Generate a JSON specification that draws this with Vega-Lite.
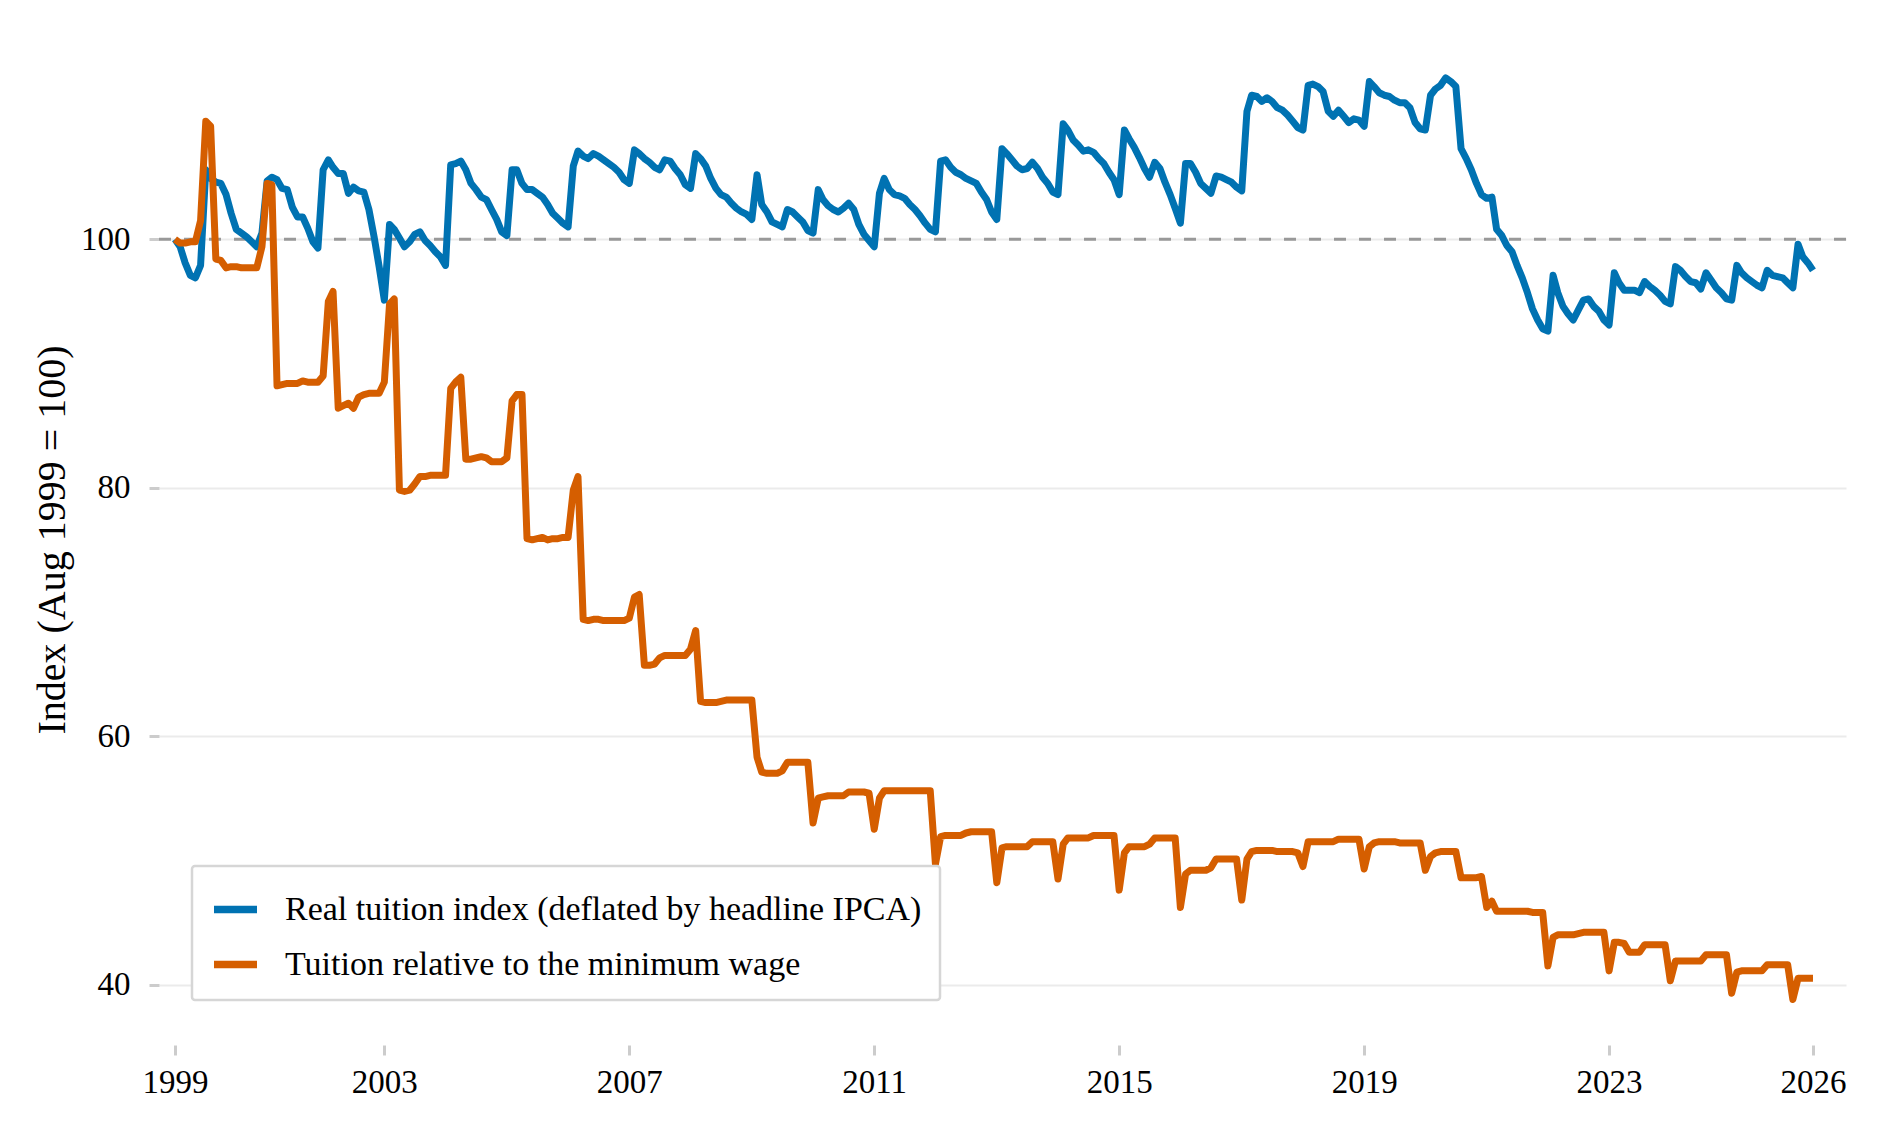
{
"$schema":"https://vega.github.io/schema/vega-lite/v6.json",
"width":1687,"height":1011,
"autosize":{"type":"none"},
"padding":{"left":159,"top":34,"right":33,"bottom":93},
"background":"white",
"config":{"font":"Liberation Serif","view":{"stroke":null}},
"datasets":{
"real":[
{"d":"1999-08","v":100.0},{"d":"1999-09","v":99.4},{"d":"1999-10","v":98.1},{"d":"1999-11","v":97.1},{"d":"1999-12","v":96.9},
{"d":"2000-01","v":97.9},{"d":"2000-02","v":105.6},{"d":"2000-03","v":104.9},{"d":"2000-04","v":104.6},{"d":"2000-05","v":104.5},{"d":"2000-06","v":103.6},{"d":"2000-07","v":102.1},{"d":"2000-08","v":100.8},{"d":"2000-09","v":100.5},{"d":"2000-10","v":100.2},{"d":"2000-11","v":99.8},{"d":"2000-12","v":99.4},
{"d":"2001-01","v":100.5},{"d":"2001-02","v":104.7},{"d":"2001-03","v":105.0},{"d":"2001-04","v":104.8},{"d":"2001-05","v":104.1},{"d":"2001-06","v":104.0},{"d":"2001-07","v":102.6},{"d":"2001-08","v":101.8},{"d":"2001-09","v":101.8},{"d":"2001-10","v":100.9},{"d":"2001-11","v":99.8},{"d":"2001-12","v":99.3},
{"d":"2002-01","v":105.6},{"d":"2002-02","v":106.4},{"d":"2002-03","v":105.8},{"d":"2002-04","v":105.3},{"d":"2002-05","v":105.3},{"d":"2002-06","v":103.7},{"d":"2002-07","v":104.2},{"d":"2002-08","v":103.9},{"d":"2002-09","v":103.8},{"d":"2002-10","v":102.4},{"d":"2002-11","v":100.2},{"d":"2002-12","v":97.8},
{"d":"2003-01","v":95.1},{"d":"2003-02","v":101.2},{"d":"2003-03","v":100.8},{"d":"2003-04","v":100.1},{"d":"2003-05","v":99.4},{"d":"2003-06","v":99.8},{"d":"2003-07","v":100.4},{"d":"2003-08","v":100.6},{"d":"2003-09","v":99.9},{"d":"2003-10","v":99.5},{"d":"2003-11","v":99.0},{"d":"2003-12","v":98.6},
{"d":"2004-01","v":97.9},{"d":"2004-02","v":106.0},{"d":"2004-03","v":106.1},{"d":"2004-04","v":106.3},{"d":"2004-05","v":105.6},{"d":"2004-06","v":104.5},{"d":"2004-07","v":104.0},{"d":"2004-08","v":103.4},{"d":"2004-09","v":103.2},{"d":"2004-10","v":102.4},{"d":"2004-11","v":101.6},{"d":"2004-12","v":100.6},
{"d":"2005-01","v":100.3},{"d":"2005-02","v":105.6},{"d":"2005-03","v":105.6},{"d":"2005-04","v":104.5},{"d":"2005-05","v":104.0},{"d":"2005-06","v":104.0},{"d":"2005-07","v":103.7},{"d":"2005-08","v":103.4},{"d":"2005-09","v":102.8},{"d":"2005-10","v":102.1},{"d":"2005-11","v":101.7},{"d":"2005-12","v":101.3},
{"d":"2006-01","v":101.0},{"d":"2006-02","v":105.9},{"d":"2006-03","v":107.1},{"d":"2006-04","v":106.7},{"d":"2006-05","v":106.5},{"d":"2006-06","v":106.9},{"d":"2006-07","v":106.7},{"d":"2006-08","v":106.4},{"d":"2006-09","v":106.1},{"d":"2006-10","v":105.8},{"d":"2006-11","v":105.4},{"d":"2006-12","v":104.8},
{"d":"2007-01","v":104.5},{"d":"2007-02","v":107.2},{"d":"2007-03","v":106.9},{"d":"2007-04","v":106.5},{"d":"2007-05","v":106.2},{"d":"2007-06","v":105.8},{"d":"2007-07","v":105.6},{"d":"2007-08","v":106.4},{"d":"2007-09","v":106.3},{"d":"2007-10","v":105.7},{"d":"2007-11","v":105.2},{"d":"2007-12","v":104.4},
{"d":"2008-01","v":104.1},{"d":"2008-02","v":106.9},{"d":"2008-03","v":106.5},{"d":"2008-04","v":105.9},{"d":"2008-05","v":104.9},{"d":"2008-06","v":104.1},{"d":"2008-07","v":103.6},{"d":"2008-08","v":103.4},{"d":"2008-09","v":102.9},{"d":"2008-10","v":102.5},{"d":"2008-11","v":102.2},{"d":"2008-12","v":102.0},
{"d":"2009-01","v":101.6},{"d":"2009-02","v":105.2},{"d":"2009-03","v":102.8},{"d":"2009-04","v":102.2},{"d":"2009-05","v":101.4},{"d":"2009-06","v":101.2},{"d":"2009-07","v":101.0},{"d":"2009-08","v":102.4},{"d":"2009-09","v":102.2},{"d":"2009-10","v":101.8},{"d":"2009-11","v":101.4},{"d":"2009-12","v":100.7},
{"d":"2010-01","v":100.5},{"d":"2010-02","v":104.0},{"d":"2010-03","v":103.2},{"d":"2010-04","v":102.7},{"d":"2010-05","v":102.4},{"d":"2010-06","v":102.2},{"d":"2010-07","v":102.5},{"d":"2010-08","v":102.9},{"d":"2010-09","v":102.4},{"d":"2010-10","v":101.2},{"d":"2010-11","v":100.4},{"d":"2010-12","v":99.9},
{"d":"2011-01","v":99.4},{"d":"2011-02","v":103.7},{"d":"2011-03","v":104.9},{"d":"2011-04","v":104.0},{"d":"2011-05","v":103.6},{"d":"2011-06","v":103.5},{"d":"2011-07","v":103.3},{"d":"2011-08","v":102.8},{"d":"2011-09","v":102.4},{"d":"2011-10","v":101.9},{"d":"2011-11","v":101.3},{"d":"2011-12","v":100.8},
{"d":"2012-01","v":100.6},{"d":"2012-02","v":106.3},{"d":"2012-03","v":106.4},{"d":"2012-04","v":105.8},{"d":"2012-05","v":105.4},{"d":"2012-06","v":105.2},{"d":"2012-07","v":104.9},{"d":"2012-08","v":104.7},{"d":"2012-09","v":104.5},{"d":"2012-10","v":103.8},{"d":"2012-11","v":103.2},{"d":"2012-12","v":102.2},
{"d":"2013-01","v":101.6},{"d":"2013-02","v":107.3},{"d":"2013-03","v":106.9},{"d":"2013-04","v":106.4},{"d":"2013-05","v":105.9},{"d":"2013-06","v":105.6},{"d":"2013-07","v":105.7},{"d":"2013-08","v":106.2},{"d":"2013-09","v":105.7},{"d":"2013-10","v":105.0},{"d":"2013-11","v":104.5},{"d":"2013-12","v":103.8},
{"d":"2014-01","v":103.6},{"d":"2014-02","v":109.3},{"d":"2014-03","v":108.8},{"d":"2014-04","v":108.0},{"d":"2014-05","v":107.6},{"d":"2014-06","v":107.1},{"d":"2014-07","v":107.2},{"d":"2014-08","v":107.0},{"d":"2014-09","v":106.5},{"d":"2014-10","v":106.1},{"d":"2014-11","v":105.4},{"d":"2014-12","v":104.8},
{"d":"2015-01","v":103.6},{"d":"2015-02","v":108.8},{"d":"2015-03","v":108.1},{"d":"2015-04","v":107.4},{"d":"2015-05","v":106.6},{"d":"2015-06","v":105.7},{"d":"2015-07","v":105.0},{"d":"2015-08","v":106.2},{"d":"2015-09","v":105.7},{"d":"2015-10","v":104.6},{"d":"2015-11","v":103.6},{"d":"2015-12","v":102.5},
{"d":"2016-01","v":101.3},{"d":"2016-02","v":106.1},{"d":"2016-03","v":106.1},{"d":"2016-04","v":105.4},{"d":"2016-05","v":104.5},{"d":"2016-06","v":104.1},{"d":"2016-07","v":103.7},{"d":"2016-08","v":105.1},{"d":"2016-09","v":105.0},{"d":"2016-10","v":104.8},{"d":"2016-11","v":104.6},{"d":"2016-12","v":104.2},
{"d":"2017-01","v":103.9},{"d":"2017-02","v":110.3},{"d":"2017-03","v":111.6},{"d":"2017-04","v":111.5},{"d":"2017-05","v":111.1},{"d":"2017-06","v":111.4},{"d":"2017-07","v":111.1},{"d":"2017-08","v":110.6},{"d":"2017-09","v":110.4},{"d":"2017-10","v":110.0},{"d":"2017-11","v":109.5},{"d":"2017-12","v":109.0},
{"d":"2018-01","v":108.8},{"d":"2018-02","v":112.4},{"d":"2018-03","v":112.5},{"d":"2018-04","v":112.3},{"d":"2018-05","v":111.9},{"d":"2018-06","v":110.3},{"d":"2018-07","v":109.9},{"d":"2018-08","v":110.4},{"d":"2018-09","v":109.9},{"d":"2018-10","v":109.4},{"d":"2018-11","v":109.7},{"d":"2018-12","v":109.6},
{"d":"2019-01","v":109.1},{"d":"2019-02","v":112.7},{"d":"2019-03","v":112.3},{"d":"2019-04","v":111.8},{"d":"2019-05","v":111.6},{"d":"2019-06","v":111.5},{"d":"2019-07","v":111.2},{"d":"2019-08","v":111.0},{"d":"2019-09","v":111.0},{"d":"2019-10","v":110.6},{"d":"2019-11","v":109.4},{"d":"2019-12","v":108.9},
{"d":"2020-01","v":108.8},{"d":"2020-02","v":111.6},{"d":"2020-03","v":112.1},{"d":"2020-04","v":112.4},{"d":"2020-05","v":113.0},{"d":"2020-06","v":112.7},{"d":"2020-07","v":112.3},{"d":"2020-08","v":107.3},{"d":"2020-09","v":106.5},{"d":"2020-10","v":105.6},{"d":"2020-11","v":104.5},{"d":"2020-12","v":103.6},
{"d":"2021-01","v":103.3},{"d":"2021-02","v":103.4},{"d":"2021-03","v":100.8},{"d":"2021-04","v":100.3},{"d":"2021-05","v":99.5},{"d":"2021-06","v":99.0},{"d":"2021-07","v":97.9},{"d":"2021-08","v":96.9},{"d":"2021-09","v":95.7},{"d":"2021-10","v":94.4},{"d":"2021-11","v":93.5},{"d":"2021-12","v":92.8},
{"d":"2022-01","v":92.6},{"d":"2022-02","v":97.1},{"d":"2022-03","v":95.7},{"d":"2022-04","v":94.6},{"d":"2022-05","v":94.0},{"d":"2022-06","v":93.5},{"d":"2022-07","v":94.3},{"d":"2022-08","v":95.1},{"d":"2022-09","v":95.2},{"d":"2022-10","v":94.6},{"d":"2022-11","v":94.2},{"d":"2022-12","v":93.5},
{"d":"2023-01","v":93.1},{"d":"2023-02","v":97.3},{"d":"2023-03","v":96.5},{"d":"2023-04","v":95.9},{"d":"2023-05","v":95.9},{"d":"2023-06","v":95.9},{"d":"2023-07","v":95.7},{"d":"2023-08","v":96.6},{"d":"2023-09","v":96.2},{"d":"2023-10","v":95.9},{"d":"2023-11","v":95.5},{"d":"2023-12","v":95.0},
{"d":"2024-01","v":94.8},{"d":"2024-02","v":97.8},{"d":"2024-03","v":97.5},{"d":"2024-04","v":97.0},{"d":"2024-05","v":96.6},{"d":"2024-06","v":96.5},{"d":"2024-07","v":96.0},{"d":"2024-08","v":97.3},{"d":"2024-09","v":96.7},{"d":"2024-10","v":96.1},{"d":"2024-11","v":95.7},{"d":"2024-12","v":95.2},
{"d":"2025-01","v":95.1},{"d":"2025-02","v":97.9},{"d":"2025-03","v":97.3},{"d":"2025-04","v":96.9},{"d":"2025-05","v":96.6},{"d":"2025-06","v":96.3},{"d":"2025-07","v":96.1},{"d":"2025-08","v":97.5},{"d":"2025-09","v":97.1},{"d":"2025-10","v":97.0},{"d":"2025-11","v":96.9},{"d":"2025-12","v":96.5},
{"d":"2026-01","v":96.1},{"d":"2026-02","v":99.6},{"d":"2026-03","v":98.6},{"d":"2026-04","v":98.1},{"d":"2026-05","v":97.5}
],
"mw":[
{"d":"1999-08","v":100.0},{"d":"1999-09","v":99.7},{"d":"1999-10","v":99.7},{"d":"1999-11","v":99.8},{"d":"1999-12","v":99.8},
{"d":"2000-01","v":101.5},{"d":"2000-02","v":109.5},{"d":"2000-03","v":109.1},{"d":"2000-04","v":98.4},{"d":"2000-05","v":98.3},{"d":"2000-06","v":97.7},{"d":"2000-07","v":97.8},{"d":"2000-08","v":97.8},{"d":"2000-09","v":97.7},{"d":"2000-10","v":97.7},{"d":"2000-11","v":97.7},{"d":"2000-12","v":97.7},
{"d":"2001-01","v":99.4},{"d":"2001-02","v":104.5},{"d":"2001-03","v":104.4},{"d":"2001-04","v":88.2},{"d":"2001-05","v":88.3},{"d":"2001-06","v":88.4},{"d":"2001-07","v":88.4},{"d":"2001-08","v":88.4},{"d":"2001-09","v":88.6},{"d":"2001-10","v":88.5},{"d":"2001-11","v":88.5},{"d":"2001-12","v":88.5},
{"d":"2002-01","v":89.0},{"d":"2002-02","v":95.0},{"d":"2002-03","v":95.8},{"d":"2002-04","v":86.4},{"d":"2002-05","v":86.6},{"d":"2002-06","v":86.8},{"d":"2002-07","v":86.4},{"d":"2002-08","v":87.3},{"d":"2002-09","v":87.5},{"d":"2002-10","v":87.6},{"d":"2002-11","v":87.6},{"d":"2002-12","v":87.6},
{"d":"2003-01","v":88.5},{"d":"2003-02","v":94.8},{"d":"2003-03","v":95.2},{"d":"2003-04","v":79.8},{"d":"2003-05","v":79.7},{"d":"2003-06","v":79.8},{"d":"2003-07","v":80.3},{"d":"2003-08","v":80.9},{"d":"2003-09","v":80.9},{"d":"2003-10","v":81.0},{"d":"2003-11","v":81.0},{"d":"2003-12","v":81.0},
{"d":"2004-01","v":81.0},{"d":"2004-02","v":88.0},{"d":"2004-03","v":88.5},{"d":"2004-04","v":88.9},{"d":"2004-05","v":82.3},{"d":"2004-06","v":82.3},{"d":"2004-07","v":82.4},{"d":"2004-08","v":82.5},{"d":"2004-09","v":82.4},{"d":"2004-10","v":82.1},{"d":"2004-11","v":82.1},{"d":"2004-12","v":82.1},
{"d":"2005-01","v":82.4},{"d":"2005-02","v":87.0},{"d":"2005-03","v":87.5},{"d":"2005-04","v":87.5},{"d":"2005-05","v":75.9},{"d":"2005-06","v":75.8},{"d":"2005-07","v":75.9},{"d":"2005-08","v":76.0},{"d":"2005-09","v":75.8},{"d":"2005-10","v":75.9},{"d":"2005-11","v":75.9},{"d":"2005-12","v":76.0},
{"d":"2006-01","v":76.0},{"d":"2006-02","v":79.8},{"d":"2006-03","v":80.9},{"d":"2006-04","v":69.4},{"d":"2006-05","v":69.3},{"d":"2006-06","v":69.4},{"d":"2006-07","v":69.4},{"d":"2006-08","v":69.3},{"d":"2006-09","v":69.3},{"d":"2006-10","v":69.3},{"d":"2006-11","v":69.3},{"d":"2006-12","v":69.3},
{"d":"2007-01","v":69.5},{"d":"2007-02","v":71.2},{"d":"2007-03","v":71.4},{"d":"2007-04","v":65.7},{"d":"2007-05","v":65.7},{"d":"2007-06","v":65.8},{"d":"2007-07","v":66.3},{"d":"2007-08","v":66.5},{"d":"2007-09","v":66.5},{"d":"2007-10","v":66.5},{"d":"2007-11","v":66.5},{"d":"2007-12","v":66.5},
{"d":"2008-01","v":67.0},{"d":"2008-02","v":68.5},{"d":"2008-03","v":62.8},{"d":"2008-04","v":62.7},{"d":"2008-05","v":62.7},{"d":"2008-06","v":62.7},{"d":"2008-07","v":62.8},{"d":"2008-08","v":62.9},{"d":"2008-09","v":62.9},{"d":"2008-10","v":62.9},{"d":"2008-11","v":62.9},{"d":"2008-12","v":62.9},
{"d":"2009-01","v":62.9},{"d":"2009-02","v":58.3},{"d":"2009-03","v":57.1},{"d":"2009-04","v":57.0},{"d":"2009-05","v":57.0},{"d":"2009-06","v":57.0},{"d":"2009-07","v":57.2},{"d":"2009-08","v":57.9},{"d":"2009-09","v":57.9},{"d":"2009-10","v":57.9},{"d":"2009-11","v":57.9},{"d":"2009-12","v":57.9},
{"d":"2010-01","v":53.0},{"d":"2010-02","v":55.0},{"d":"2010-03","v":55.1},{"d":"2010-04","v":55.2},{"d":"2010-05","v":55.2},{"d":"2010-06","v":55.2},{"d":"2010-07","v":55.2},{"d":"2010-08","v":55.5},{"d":"2010-09","v":55.5},{"d":"2010-10","v":55.5},{"d":"2010-11","v":55.5},{"d":"2010-12","v":55.4},
{"d":"2011-01","v":52.5},{"d":"2011-02","v":55.0},{"d":"2011-03","v":55.6},{"d":"2011-04","v":55.6},{"d":"2011-05","v":55.6},{"d":"2011-06","v":55.6},{"d":"2011-07","v":55.6},{"d":"2011-08","v":55.6},{"d":"2011-09","v":55.6},{"d":"2011-10","v":55.6},{"d":"2011-11","v":55.6},{"d":"2011-12","v":55.6},
{"d":"2012-01","v":49.7},{"d":"2012-02","v":51.9},{"d":"2012-03","v":52.0},{"d":"2012-04","v":52.0},{"d":"2012-05","v":52.0},{"d":"2012-06","v":52.0},{"d":"2012-07","v":52.2},{"d":"2012-08","v":52.3},{"d":"2012-09","v":52.3},{"d":"2012-10","v":52.3},{"d":"2012-11","v":52.3},{"d":"2012-12","v":52.3},
{"d":"2013-01","v":48.2},{"d":"2013-02","v":51.0},{"d":"2013-03","v":51.1},{"d":"2013-04","v":51.1},{"d":"2013-05","v":51.1},{"d":"2013-06","v":51.1},{"d":"2013-07","v":51.1},{"d":"2013-08","v":51.5},{"d":"2013-09","v":51.5},{"d":"2013-10","v":51.5},{"d":"2013-11","v":51.5},{"d":"2013-12","v":51.5},
{"d":"2014-01","v":48.5},{"d":"2014-02","v":51.3},{"d":"2014-03","v":51.8},{"d":"2014-04","v":51.8},{"d":"2014-05","v":51.8},{"d":"2014-06","v":51.8},{"d":"2014-07","v":51.8},{"d":"2014-08","v":52.0},{"d":"2014-09","v":52.0},{"d":"2014-10","v":52.0},{"d":"2014-11","v":52.0},{"d":"2014-12","v":52.0},
{"d":"2015-01","v":47.6},{"d":"2015-02","v":50.6},{"d":"2015-03","v":51.1},{"d":"2015-04","v":51.1},{"d":"2015-05","v":51.1},{"d":"2015-06","v":51.1},{"d":"2015-07","v":51.3},{"d":"2015-08","v":51.8},{"d":"2015-09","v":51.8},{"d":"2015-10","v":51.8},{"d":"2015-11","v":51.8},{"d":"2015-12","v":51.8},
{"d":"2016-01","v":46.2},{"d":"2016-02","v":48.9},{"d":"2016-03","v":49.2},{"d":"2016-04","v":49.2},{"d":"2016-05","v":49.2},{"d":"2016-06","v":49.2},{"d":"2016-07","v":49.4},{"d":"2016-08","v":50.1},{"d":"2016-09","v":50.1},{"d":"2016-10","v":50.1},{"d":"2016-11","v":50.1},{"d":"2016-12","v":50.1},
{"d":"2017-01","v":46.8},{"d":"2017-02","v":50.1},{"d":"2017-03","v":50.7},{"d":"2017-04","v":50.8},{"d":"2017-05","v":50.8},{"d":"2017-06","v":50.8},{"d":"2017-07","v":50.8},{"d":"2017-08","v":50.7},{"d":"2017-09","v":50.7},{"d":"2017-10","v":50.7},{"d":"2017-11","v":50.7},{"d":"2017-12","v":50.6},
{"d":"2018-01","v":49.5},{"d":"2018-02","v":51.5},{"d":"2018-03","v":51.5},{"d":"2018-04","v":51.5},{"d":"2018-05","v":51.5},{"d":"2018-06","v":51.5},{"d":"2018-07","v":51.5},{"d":"2018-08","v":51.7},{"d":"2018-09","v":51.7},{"d":"2018-10","v":51.7},{"d":"2018-11","v":51.7},{"d":"2018-12","v":51.7},
{"d":"2019-01","v":49.3},{"d":"2019-02","v":51.1},{"d":"2019-03","v":51.4},{"d":"2019-04","v":51.5},{"d":"2019-05","v":51.5},{"d":"2019-06","v":51.5},{"d":"2019-07","v":51.5},{"d":"2019-08","v":51.4},{"d":"2019-09","v":51.4},{"d":"2019-10","v":51.4},{"d":"2019-11","v":51.4},{"d":"2019-12","v":51.4},
{"d":"2020-01","v":49.2},{"d":"2020-02","v":50.3},{"d":"2020-03","v":50.6},{"d":"2020-04","v":50.7},{"d":"2020-05","v":50.7},{"d":"2020-06","v":50.7},{"d":"2020-07","v":50.7},{"d":"2020-08","v":48.6},{"d":"2020-09","v":48.6},{"d":"2020-10","v":48.6},{"d":"2020-11","v":48.6},{"d":"2020-12","v":48.7},
{"d":"2021-01","v":46.2},{"d":"2021-02","v":46.7},{"d":"2021-03","v":45.9},{"d":"2021-04","v":45.9},{"d":"2021-05","v":45.9},{"d":"2021-06","v":45.9},{"d":"2021-07","v":45.9},{"d":"2021-08","v":45.9},{"d":"2021-09","v":45.9},{"d":"2021-10","v":45.8},{"d":"2021-11","v":45.8},{"d":"2021-12","v":45.8},
{"d":"2022-01","v":41.5},{"d":"2022-02","v":43.8},{"d":"2022-03","v":44.0},{"d":"2022-04","v":44.0},{"d":"2022-05","v":44.0},{"d":"2022-06","v":44.0},{"d":"2022-07","v":44.1},{"d":"2022-08","v":44.2},{"d":"2022-09","v":44.2},{"d":"2022-10","v":44.2},{"d":"2022-11","v":44.2},{"d":"2022-12","v":44.2},
{"d":"2023-01","v":41.1},{"d":"2023-02","v":43.4},{"d":"2023-03","v":43.4},{"d":"2023-04","v":43.3},{"d":"2023-05","v":42.6},{"d":"2023-06","v":42.6},{"d":"2023-07","v":42.6},{"d":"2023-08","v":43.2},{"d":"2023-09","v":43.2},{"d":"2023-10","v":43.2},{"d":"2023-11","v":43.2},{"d":"2023-12","v":43.2},
{"d":"2024-01","v":40.3},{"d":"2024-02","v":41.9},{"d":"2024-03","v":41.9},{"d":"2024-04","v":41.9},{"d":"2024-05","v":41.9},{"d":"2024-06","v":41.9},{"d":"2024-07","v":41.9},{"d":"2024-08","v":42.4},{"d":"2024-09","v":42.4},{"d":"2024-10","v":42.4},{"d":"2024-11","v":42.4},{"d":"2024-12","v":42.4},
{"d":"2025-01","v":39.3},{"d":"2025-02","v":41.0},{"d":"2025-03","v":41.1},{"d":"2025-04","v":41.1},{"d":"2025-05","v":41.1},{"d":"2025-06","v":41.1},{"d":"2025-07","v":41.1},{"d":"2025-08","v":41.6},{"d":"2025-09","v":41.6},{"d":"2025-10","v":41.6},{"d":"2025-11","v":41.6},{"d":"2025-12","v":41.6},
{"d":"2026-01","v":38.8},{"d":"2026-02","v":40.5},{"d":"2026-03","v":40.5},{"d":"2026-04","v":40.5},{"d":"2026-05","v":40.5}
]
},
"layer":[
{
"data":{"values":[{"ref":100}]},
"mark":{"type":"rule","color":"#999999","strokeWidth":3,"strokeDash":[12,13]},
"encoding":{"y":{"field":"ref","type":"quantitative","title":"Index (Aug 1999 = 100)"}}
},
{
"data":{"name":"real"},
"mark":{"type":"line","strokeWidth":7,"strokeJoin":"round","strokeCap":"butt"},
"encoding":{
"x":{"field":"d","type":"temporal","title":null,
"scale":{"type":"utc","nice":false,"domain":[{"year":1999,"month":4,"date":28,"utc":true},{"year":2026,"month":11,"date":14,"utc":true}]},
"axis":{"values":[{"year":1999,"month":8,"date":1,"utc":true},{"year":2003,"month":1,"date":1,"utc":true},{"year":2007,"month":1,"date":1,"utc":true},{"year":2011,"month":1,"date":1,"utc":true},{"year":2015,"month":1,"date":1,"utc":true},{"year":2019,"month":1,"date":1,"utc":true},{"year":2023,"month":1,"date":1,"utc":true},{"year":2026,"month":5,"date":1,"utc":true}],
"labelExpr":"utcFormat(datum.value, '%Y')","grid":false,"domain":false,"tickColor":"#cccccc","tickWidth":3,"tickSize":10,"labelFontSize":33,"labelColor":"#000000","labelPadding":11,"labelOverlap":false,"labelFlush":false}},
"y":{"field":"v","type":"quantitative","title":"Index (Aug 1999 = 100)",
"scale":{"domain":[35.13,116.53],"nice":false,"zero":false},
"axis":{"values":[40,60,80,100],"grid":true,"gridColor":"#ebebeb","gridWidth":2,"domain":false,"tickColor":"#cccccc","tickWidth":3,"tickSize":10,"labelFontSize":33,"labelColor":"#000000","labelPadding":19,"titleFontSize":40,"titleFontWeight":"normal","titleColor":"#000000","titlePadding":8}},
"color":{"datum":"Real tuition index (deflated by headline IPCA)",
"scale":{"domain":["Real tuition index (deflated by headline IPCA)","Tuition relative to the minimum wage"],"range":["#0072B2","#D55E00"]},
"legend":{"title":null,"orient":"none","legendX":33,"legendY":832,"direction":"vertical","labelFontSize":34,"labelColor":"#000000","labelLimit":2000,"symbolType":"stroke","symbolSize":1849,"symbolStrokeWidth":7.5,"labelOffset":24,"padding":18,"rowPadding":12,"strokeColor":"#d6d6d6","fillColor":"#ffffff","cornerRadius":3,
"encode":{"legend":{"update":{"strokeWidth":{"value":2.5}}}}}}
}
},
{
"data":{"name":"mw"},
"mark":{"type":"line","strokeWidth":7,"strokeJoin":"round","strokeCap":"butt"},
"encoding":{
"x":{"field":"d","type":"temporal","title":null},
"y":{"field":"v","type":"quantitative","title":"Index (Aug 1999 = 100)"},
"color":{"datum":"Tuition relative to the minimum wage"}
}
}
]
}
